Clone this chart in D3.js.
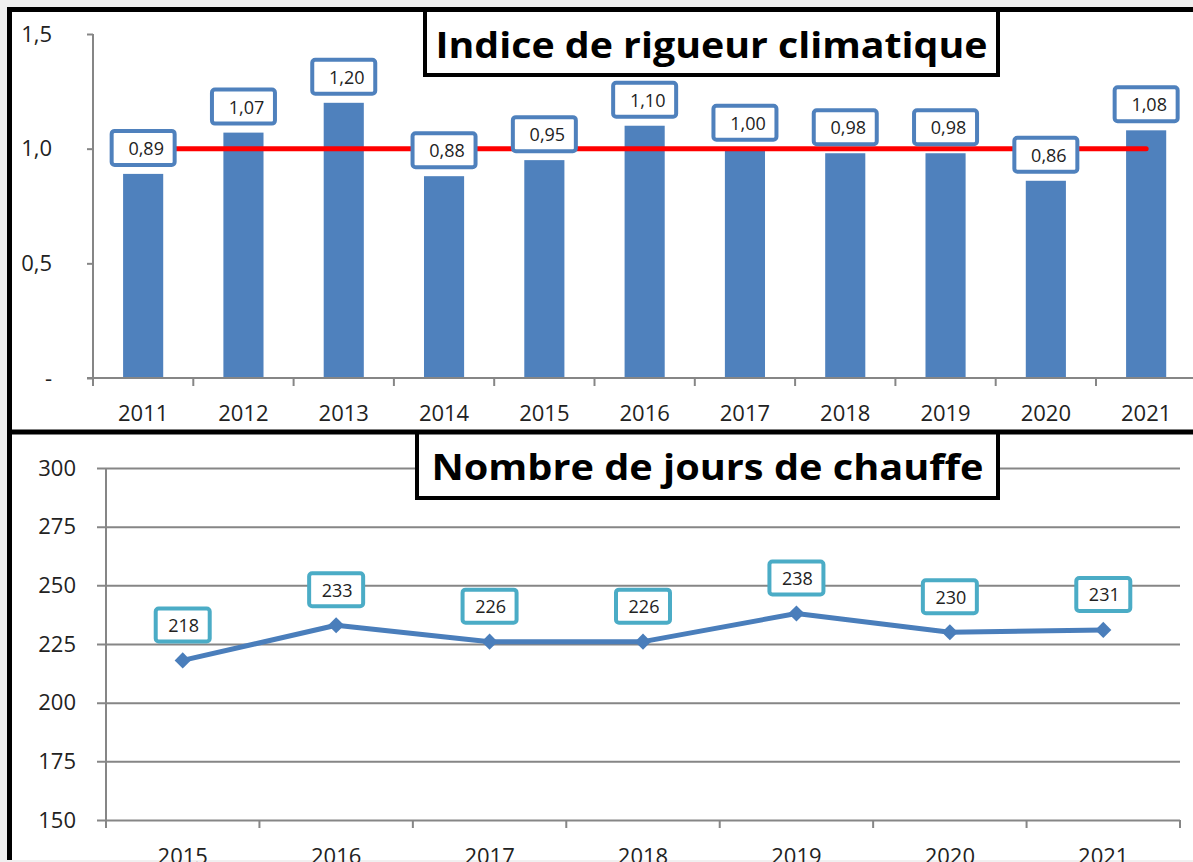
<!DOCTYPE html>
<html>
<head>
<meta charset="utf-8">
<script src="https://cdn.jsdelivr.net/npm/d3@7"></script>
<style>
  body { margin: 0; background: #f0f0f0; }
  svg { display: block; }
  text { font-family: "Open Sans", sans-serif; fill: #222; }
</style>
</head>
<body>
<svg id="chart" width="1193" height="862"></svg>
<script>
// --- data ---
const yearsIndice = ["2011","2012","2013","2014","2015","2016","2017","2018","2019","2020","2021"];
const indiceValues = [0.89, 1.07, 1.20, 0.88, 0.95, 1.10, 1.00, 0.98, 0.98, 0.86, 1.08];
const indiceTicks = [0, 0.5, 1.0, 1.5];
const referenceValue = 1.0;

const yearsJours = ["2015","2016","2017","2018","2019","2020","2021"];
const joursValues = [218, 233, 226, 226, 238, 230, 231];
const joursTicks = [150, 175, 200, 225, 250, 275, 300];

const titleIndice = "Indice de rigueur climatique";
const titleJours = "Nombre de jours de chauffe";

const svg = d3.select("#chart");
const comma = s => s.replace(".", ",");

// page frame
svg.append("rect").attr("x", 7).attr("y", 7).attr("width", 1186).attr("height", 853).attr("fill", "white");

const drawTitle = function(label, bx, by, bw, bh, baseline) {
    svg.append("rect")
    .attr("x", bx).attr("y", by).attr("width", bw).attr("height", bh)
    .attr("fill", "white").attr("stroke", "black").attr("stroke-width", 4);
    svg.append("text")
    .attr("x", bx + bw / 2).attr("y", baseline)
    .attr("text-anchor", "middle")
    .attr("textLength", 552).attr("lengthAdjust", "spacingAndGlyphs")
    .style("font-size", "36px").style("font-weight", "bold").style("fill", "black")
    .text(label);
};

// ---------- top chart: bars ----------
const x1 = d3.scaleBand().domain(yearsIndice).range([93, 93 + 11 * 100.3]);
const y1 = d3.scaleLinear().domain([0, 1.5]).range([378, 34]);
const bw1 = x1.bandwidth();

const topChart = svg.append("g");

topChart.selectAll("rect.bar")
.data(indiceValues)
.enter()
.append("rect")
.attr("class", "bar")
.attr("x", (d, i) => x1(yearsIndice[i]) + bw1 * 0.3)
.attr("width", bw1 * 0.4)
.attr("y", d => y1(d))
.attr("height", d => y1(0) - y1(d))
.attr("fill", "#4f81bd");

// y axis
const yAxis1 = d3.axisLeft(y1)
.tickValues(indiceTicks)
.tickSize(6)
.tickPadding(35)
.tickFormat(d => d === 0 ? "-" : comma(d3.format(".1f")(d)));

const gy1 = topChart.append("g").attr("transform", "translate(93,0)").call(yAxis1);
gy1.select(".domain").remove();
gy1.selectAll("line").attr("stroke", "#868686").attr("stroke-width", 2);
gy1.selectAll("text").style("font-size", "22px").style("fill", "#222");
topChart.append("line").attr("x1", 93).attr("x2", 93).attr("y1", y1(1.5)).attr("y2", y1(0))
.attr("stroke", "#868686").attr("stroke-width", 2);

// x axis
topChart.append("line").attr("x1", 87).attr("x2", 1193).attr("y1", y1(0)).attr("y2", y1(0))
.attr("stroke", "#868686").attr("stroke-width", 2);
topChart.selectAll("line.xtick")
.data(yearsIndice)
.enter()
.append("line")
.attr("class", "xtick")
.attr("x1", d => x1(d)).attr("x2", d => x1(d))
.attr("y1", y1(0)).attr("y2", y1(0) + 8)
.attr("stroke", "#868686").attr("stroke-width", 2);
topChart.selectAll("text.xlab")
.data(yearsIndice)
.enter()
.append("text")
.attr("class", "xlab")
.attr("x", d => x1(d) + bw1 / 2)
.attr("y", 421)
.attr("text-anchor", "middle")
.style("font-size", "22px")
.text(d => d);

// reference line at 1,0
topChart.append("line")
.attr("x1", x1(yearsIndice[0]) + bw1 / 2)
.attr("x2", x1(yearsIndice[yearsIndice.length - 1]) + bw1 / 2)
.attr("y1", y1(referenceValue)).attr("y2", y1(referenceValue))
.attr("stroke", "red").attr("stroke-width", 5).attr("stroke-linecap", "round");

// value labels
const lab1 = topChart.selectAll("g.lab")
.data(indiceValues)
.enter()
.append("g")
.attr("class", "lab")
.attr("transform", (d, i) => "translate(" + (x1(yearsIndice[i]) + bw1 / 2) + "," + (y1(d) - 7 - 2 - 17) + ")");
lab1.append("rect")
.attr("x", -31.5).attr("y", -17).attr("width", 63).attr("height", 34).attr("rx", 3)
.attr("fill", "white").attr("stroke", "#4f81bd").attr("stroke-width", 4);
lab1.append("text")
.attr("x", 3).attr("y", 7)
.attr("text-anchor", "middle")
.style("font-size", "18px")
.text(d => comma(d3.format(".2f")(d)));

drawTitle(titleIndice, 425, 10, 573, 65, 58);

// ---------- bottom chart: line ----------
const x2 = d3.scaleBand().domain(yearsJours).range([106, 1180]);
const y2 = d3.scaleLinear().domain([150, 300]).range([820, 468]);
const bw2 = x2.bandwidth();

const bottomChart = svg.append("g");

const yAxis2 = d3.axisLeft(y2)
.tickValues(joursTicks)
.tickSize(-(1180 - 106))
.tickPadding(30)
.tickFormat(d3.format("d"));

const gy2 = bottomChart.append("g").attr("transform", "translate(106,0)").call(yAxis2);
gy2.select(".domain").remove();
gy2.selectAll("line").attr("x1", -9).attr("stroke", "#868686").attr("stroke-width", 2);
gy2.selectAll("text").style("font-size", "22px").style("fill", "#222");
bottomChart.append("line").attr("x1", 106).attr("x2", 106).attr("y1", y2(300)).attr("y2", y2(150))
.attr("stroke", "#868686").attr("stroke-width", 2);

bottomChart.selectAll("line.xtick")
.data(yearsJours.concat(["end"]))
.enter()
.append("line")
.attr("class", "xtick")
.attr("x1", (d, i) => 106 + i * bw2).attr("x2", (d, i) => 106 + i * bw2)
.attr("y1", y2(150)).attr("y2", y2(150) + 8)
.attr("stroke", "#868686").attr("stroke-width", 2);
bottomChart.selectAll("text.xlab")
.data(yearsJours)
.enter()
.append("text")
.attr("class", "xlab")
.attr("x", d => x2(d) + bw2 / 2)
.attr("y", 864)
.attr("text-anchor", "middle")
.style("font-size", "22px")
.text(d => d);

const line = d3.line()
.x((d, i) => x2(yearsJours[i]) + bw2 / 2)
.y(d => y2(d));

bottomChart.append("path")
.datum(joursValues)
.attr("d", line)
.attr("fill", "none")
.attr("stroke", "#4a7ebb")
.attr("stroke-width", 5)
.attr("stroke-linejoin", "round");

bottomChart.selectAll("path.marker")
.data(joursValues)
.enter()
.append("path")
.attr("class", "marker")
.attr("d", d3.symbol().type(d3.symbolSquare).size(130))
.attr("transform", (d, i) => "translate(" + (x2(yearsJours[i]) + bw2 / 2) + "," + y2(d) + ") rotate(45)")
.attr("fill", "#4a7ebb");

const lab2 = bottomChart.selectAll("g.lab")
.data(joursValues)
.enter()
.append("g")
.attr("class", "lab")
.attr("transform", (d, i) => "translate(" + (x2(yearsJours[i]) + bw2 / 2) + "," + (y2(d) - 17 - 2 - 16.5) + ")");
lab2.append("rect")
.attr("x", -27).attr("y", -16.5).attr("width", 54).attr("height", 33).attr("rx", 3)
.attr("fill", "white").attr("stroke", "#4bacc6").attr("stroke-width", 4);
lab2.append("text")
.attr("x", 1).attr("y", 7)
.attr("text-anchor", "middle")
.style("font-size", "18px")
.text(d => d);

drawTitle(titleJours, 417, 432, 581, 66, 480);

// black frame lines
svg.append("path")
.attr("d", "M9.5,860 V9.5 H1193 M7,432 H1193")
.attr("fill", "none").attr("stroke", "black").attr("stroke-width", 5);
</script>
</body>
</html>
